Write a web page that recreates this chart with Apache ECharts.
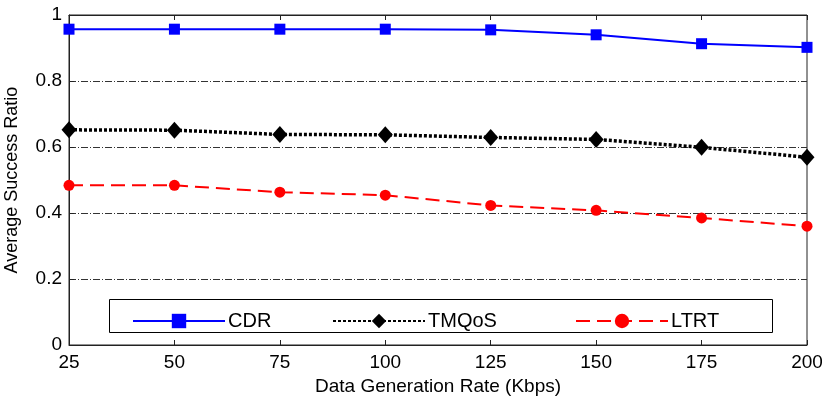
<!DOCTYPE html>
<html>
<head>
<meta charset="utf-8">
<script src="https://cdn.jsdelivr.net/npm/echarts@6/dist/echarts.min.js"></script>
<style>
  html, body { margin: 0; padding: 0; background: #fff; }
  #chart { width: 822px; height: 398px; }
</style>
</head>
<body>
<div id="chart"></div>
<script>
const rates = [25, 50, 75, 100, 125, 150, 175, 200];
const cdr = [0.957, 0.957, 0.957, 0.957, 0.955, 0.940, 0.913, 0.902];
const tmqos = [0.652, 0.651, 0.638, 0.637, 0.629, 0.623, 0.599, 0.569];
const ltrt = [0.484, 0.484, 0.463, 0.454, 0.423, 0.408, 0.385, 0.360];

const font = "Liberation Sans, Arial, sans-serif";
const chart = echarts.init(document.getElementById("chart"));

const pair = (vals) => rates.map((r, i) => [r, vals[i]]);

const legendBase = {
  top: 306,
  itemWidth: 92,
  itemHeight: 18,
  textStyle: { fontFamily: font, fontSize: 20, color: "#000", padding: [0, 0, 0, -2] },
  selectedMode: false,
};

chart.setOption({
  animation: false,
  grid: {
    left: 69, right: 15, top: 15, bottom: 53, outerBoundsMode: "none",
    show: true, borderColor: "#222", borderWidth: 1,
  },
  xAxis: [
    {
      type: "value", min: 25, max: 200, interval: 25,
      name: "Data Generation Rate (Kbps)", nameLocation: "center", nameGap: 32,
      nameTextStyle: { fontFamily: font, fontSize: 19, color: "#000" },
      axisLine: { lineStyle: { color: "#222" } },
      axisTick: { inside: true, length: 5, lineStyle: { color: "#222" } },
      axisLabel: { fontFamily: font, fontSize: 19, color: "#000", margin: 8 },
      splitLine: { show: false },
    },
    {
      type: "value", min: 25, max: 200, interval: 25, position: "top",
      axisLine: { lineStyle: { color: "#222" } },
      axisTick: { inside: true, length: 5, lineStyle: { color: "#222" } },
      axisLabel: { show: false },
      splitLine: { show: false },
    },
  ],
  yAxis: {
    type: "value", min: 0, max: 1, interval: 0.2,
    name: "Average Success Ratio", nameLocation: "center", nameGap: 48,
    nameTextStyle: { fontFamily: font, fontSize: 18, color: "#000" },
    axisLine: { show: true, lineStyle: { color: "#222" } },
    axisTick: { show: true, inside: true, length: 5, lineStyle: { color: "#222" } },
    axisLabel: { fontFamily: font, fontSize: 19, color: "#000", margin: 7,
      formatter: (v) => String(+v.toFixed(1)) },
    splitLine: { show: true, lineStyle: { color: "#333", width: 1, type: [7, 2, 1, 2] } },
  },
  legend: [
    Object.assign({}, legendBase, { left: 127, data: ["CDR"] }),
    Object.assign({}, legendBase, { left: 327, data: ["TMQoS"] }),
    Object.assign({}, legendBase, { left: 570, data: ["LTRT"] }),
  ],
  graphic: [{
    type: "rect", left: 109, top: 299, z: 0,
    shape: { width: 663, height: 33 },
    style: { fill: "#fff", stroke: "#000", lineWidth: 1 },
  }],
  series: [
    {
      name: "CDR", type: "line", data: pair(cdr),
      symbol: "rect", symbolSize: 11,
      lineStyle: { color: "#0000ff", width: 2 },
      itemStyle: { color: "#0000ff" },
    },
    {
      name: "TMQoS", type: "line", data: pair(tmqos),
      symbol: "diamond", symbolSize: [15, 17],
      lineStyle: { color: "#000", width: 3.5, type: [3, 2] },
      itemStyle: { color: "#000" },
    },
    {
      name: "LTRT", type: "line", data: pair(ltrt),
      symbol: "circle", symbolSize: 11,
      lineStyle: { color: "#ff0000", width: 2, type: [14, 7] },
      itemStyle: { color: "#ff0000" },
    },
  ],
});
</script>
</body>
</html>
